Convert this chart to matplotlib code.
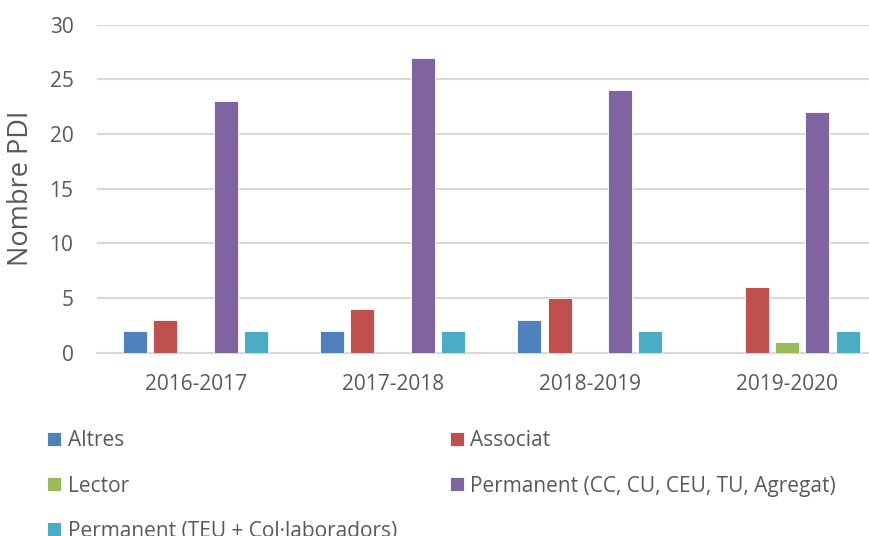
import matplotlib.pyplot as plt
import numpy as np

# data
years = ['2016-2017', '2017-2018', '2018-2019', '2019-2020']
altres = [2, 2, 3, 0]
associat = [3, 4, 5, 6]
lector = [0, 0, 0, 1]
perm_cc = [23, 27, 24, 22]
perm_teu = [2, 2, 2, 2]

series_names = ['Altres', 'Associat', 'Lector',
                'Permanent (CC, CU, CEU, TU, Agregat)',
                'Permanent (TEU + Col·laboradors)']
series_vals = [altres, associat, lector, perm_cc, perm_teu]
colors = ['#4F81BD', '#C0504D', '#9BBB59', '#8064A2', '#4BACC6']

txt = '#595959'
plt.rcParams['font.family'] = ['Open Sans', 'DejaVu Sans']

fig = plt.figure(figsize=(8.7, 5.36), dpi=100)
ax = fig.add_axes([97 / 870, 1 - 352.7 / 536, 1 - 97 / 870, (352.7 - 24.7) / 536])

x = np.arange(len(years))
step = 0.1536
width = 0.1216
bars = []
for i, (name, vals) in enumerate(zip(series_names, series_vals)):
    b = ax.bar(x + (i - 2) * step, vals, width, color=colors[i],
               edgecolor='white', linewidth=0.6, label=name, zorder=3)
    bars.append(b)

ax.set_ylim(0, 30)
ax.set_xlim(-0.5, 3 + (870 - 787) / 197.3)
ax.set_yticks(range(0, 31, 5))
ax.set_xticks(x)
ax.set_xticklabels(years)
ax.yaxis.grid(True, color='#D9D9D9', linewidth=1.5, zorder=0)
for s in ['top', 'right', 'left']:
    ax.spines[s].set_visible(False)
ax.spines['bottom'].set_color('#D9D9D9')
ax.spines['bottom'].set_linewidth(1.5)
ax.tick_params(axis='both', length=0, labelsize=15, colors=txt)
ax.tick_params(axis='y', pad=17)
ax.tick_params(axis='x', pad=15)
ax.set_ylabel('Nombre PDI', fontsize=19.5, color=txt, labelpad=10)

# reorder so the legend reads row by row like the original
order = [0, 2, 4, 1, 3]
fig.legend([bars[k] for k in order], [series_names[k] for k in order],
           loc='upper left', bbox_to_anchor=(37 / 870, 1 - 420 / 536),
           ncol=2, frameon=False, fontsize=15, labelcolor=txt, borderpad=0,
           handlelength=0.67, handleheight=0.67, handletextpad=0.3,
           labelspacing=1.16, columnspacing=2.55)

fig.savefig('out.png', dpi=100)
